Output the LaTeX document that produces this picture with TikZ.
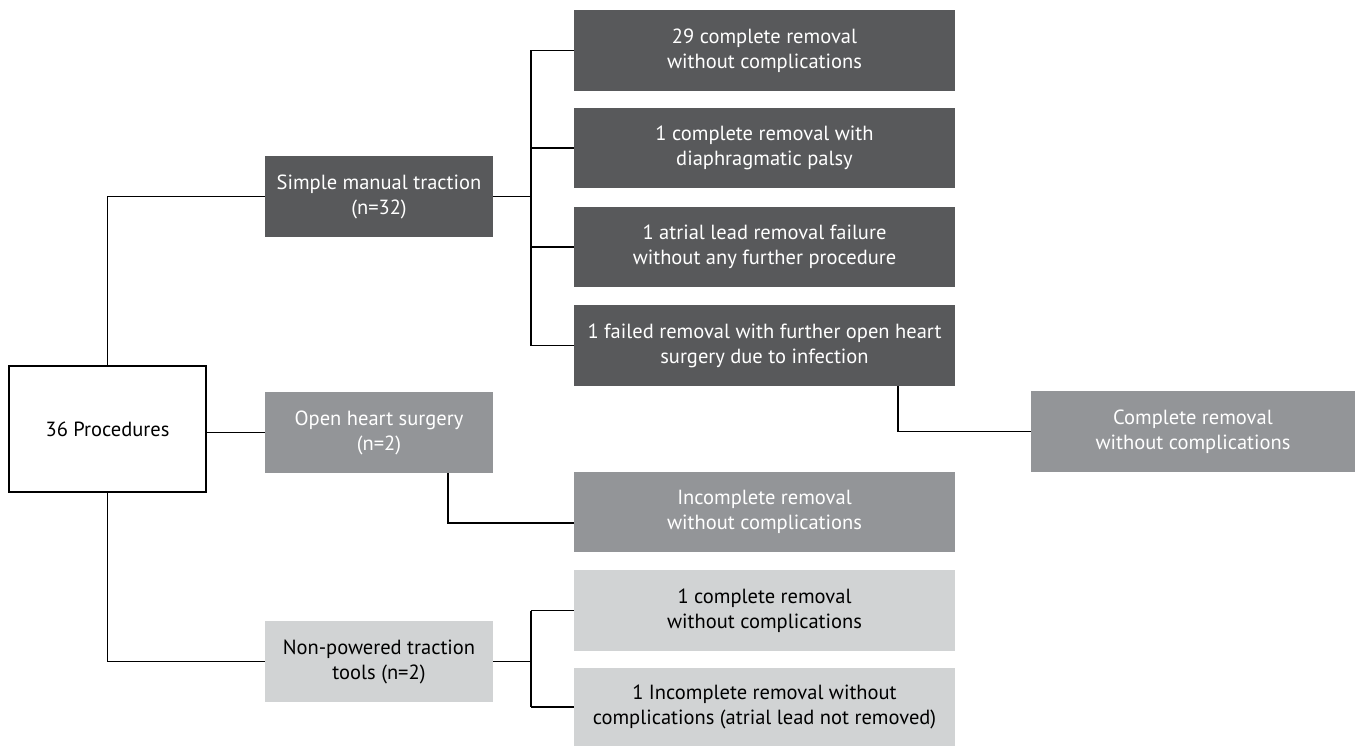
\documentclass[tikz,border=0pt]{standalone}
\usepackage{fontspec}
\setmainfont{PT Sans}
\definecolor{dk}{HTML}{58595B}
\definecolor{md}{HTML}{939598}
\definecolor{lt}{HTML}{D1D3D4}
\begin{document}
\begin{tikzpicture}[x=1pt,y=-1pt,
  box/.style={rectangle, inner sep=0pt, outer sep=0pt, align=center, font=\fontsize{20.5}{25}\selectfont},
  dkbox/.style={box, fill=dk, text=white},
  mdbox/.style={box, fill=md, text=white},
  ltbox/.style={box, fill=lt, text=black},
  conn/.style={line width=1.6pt, black}]
\useasboundingbox (0,0) rectangle (1357,746);
\node[box, draw=black, line width=2pt, minimum width=197pt, minimum height=126pt] (main) at (107.5,429) {36 Procedures};
\node[dkbox, minimum width=228pt, minimum height=81pt] (smt) at (379,196.5) {Simple manual traction\\(n=32)};
\node[mdbox, minimum width=228pt, minimum height=81pt] (ohs) at (379,432.5) {Open heart surgery\\(n=2)};
\node[ltbox, minimum width=228pt, minimum height=81pt] (npt) at (379,661.5) {Non-powered traction\\tools (n=2)};
\node[dkbox, minimum width=381pt, minimum height=81pt] (r1) at (764.5,50.5) {29 complete removal\\without complications};
\node[dkbox, minimum width=381pt, minimum height=80pt] (r2) at (764.5,148) {1 complete removal with\\diaphragmatic palsy};
\node[dkbox, minimum width=381pt, minimum height=80pt] (r3) at (764.5,247) {1 atrial lead removal failure\\without any further procedure};
\node[dkbox, minimum width=381pt, minimum height=81pt] (r4) at (764.5,345.5) {1 failed removal with further open heart\\surgery due to infection};
\node[mdbox, minimum width=381pt, minimum height=80pt] (r5) at (764.5,512) {Incomplete removal\\without complications};
\node[ltbox, minimum width=381pt, minimum height=81pt] (r6) at (764.5,610.5) {1 complete removal\\without complications};
\node[ltbox, minimum width=381pt, minimum height=78pt] (r7) at (764.5,707) {1 Incomplete removal without\\complications (atrial lead not removed)};
\node[mdbox, minimum width=324pt, minimum height=81pt] (fr) at (1193,431.5) {Complete removal\\without complications};
\coordinate (j1) at (531,196.5);
\coordinate (j2) at (531,661.5);
\draw[conn] (main.north) |- (smt.west);
\draw[conn] (main.east |- ohs.west) -- (ohs.west);
\draw[conn] (main.south) |- (npt.west);
\draw[conn] (smt.east) -- (j1);
\draw[conn] (j1 |- r1.west) -- (j1 |- r4.west);
\foreach \r in {r1,r2,r3,r4} \draw[conn] (j1 |- \r.west) -- (\r.west);
\draw[conn] ([xshift=69pt]ohs.south) |- ([yshift=-11pt]r5.west);
\draw[conn] ([xshift=133.5pt]r4.south) |- (fr.west);
\draw[conn] (npt.east) -- (j2);
\draw[conn] (j2 |- r6.west) -- (j2 |- r7.west);
\foreach \r in {r6,r7} \draw[conn] (j2 |- \r.west) -- (\r.west);
\end{tikzpicture}
\end{document}
